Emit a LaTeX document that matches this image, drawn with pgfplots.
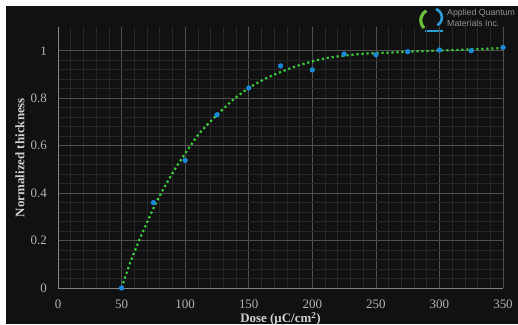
\documentclass[border=0pt]{standalone}
\usepackage{pgfplots}
\pgfplotsset{compat=1.18}
\usepackage{fontspec}
\setmainfont{Liberation Serif}
\newfontfamily\logofont{Liberation Sans}
\definecolor{bgdark}{HTML}{111111}
\definecolor{majgrid}{HTML}{505050}
\definecolor{mingrid}{HTML}{262626}
\definecolor{ticktxt}{HTML}{B4B4B4}
\definecolor{labtxt}{HTML}{D0D0D0}
\definecolor{ptblue}{HTML}{1A8AD8}
\definecolor{fitgreen}{HTML}{3CCB3C}
\definecolor{logogreen}{HTML}{6CBF3A}
\definecolor{logoblue}{HTML}{2A9FD6}
\begin{document}
\begin{tikzpicture}[x=1bp,y=1bp]
\useasboundingbox (-58,-36) rectangle (460,288);
\fill[white] (-58,-36) rectangle (460,288);
\fill[bgdark] (-52,-36) rectangle (460,282);
% logo
\draw[logogreen, line width=3.2bp] (366,260) arc[start angle=225, end angle=120, radius=11];
\draw[logoblue, line width=2.6bp] (378,279) arc[start angle=70, end angle=-60, radius=9];
\draw[logoblue, line width=2.2bp] (367,257) -- (385,257);
\node[anchor=west, inner sep=0pt, text=gray!85!white] at (389,275) {\logofont\fontsize{8.8}{10}\selectfont Applied Quantum};
\node[anchor=west, inner sep=0pt, text=gray!85!white] at (389,265) {\logofont\fontsize{8.8}{10}\selectfont Materials Inc.};
\begin{axis}[
  at={(0,0)}, anchor=south west,
  scale only axis, width=445bp, height=261bp,
  xmin=0, xmax=350, ymin=0, ymax=1.1,
  xtick={0,50,...,350},
  ytick={0,0.2,0.4,0.6,0.8,1},
  yticklabels={0,0.2,0.4,0.6,0.8,1},
  minor x tick num=4, minor y tick num=4,
  grid=both,
  major grid style={majgrid, line width=0.7bp},
  minor grid style={mingrid, line width=0.5bp},
  axis line style={draw=none},
  major tick length=0pt, minor tick length=0pt,
  /pgf/number format/assume math mode=true,
  ticklabel style={text=ticktxt, font=\fontsize{13}{15}\selectfont},
  xticklabel style={anchor=center, inner sep=0pt, yshift=-16bp},
  yticklabel style={anchor=east, inner sep=0pt, xshift=-11bp},
  xlabel={Dose (μC/cm\textsuperscript{2})},
  ylabel={Normalized thickness},
  label style={text=labtxt, font=\bfseries\fontsize{13}{15}\selectfont},
  xlabel style={at={(axis description cs:0.5,-0.118)}, anchor=center, inner sep=0pt},
  ylabel style={at={(axis description cs:-0.0854,0.5)}, anchor=center},
  clip=false,
]
\draw[majgrid!70!white, line width=0.8bp] (axis cs:0,1.1) -- (axis cs:0,0) -- (axis cs:350,0);
\addplot[fitgreen, line width=2.2bp, dash pattern=on 2.2bp off 2.8bp, smooth, tension=0.5] coordinates {
(50,0) (56.6,0.104) (63.7,0.199) (70,0.276) (76.5,0.352) (83.6,0.424) (91.5,0.497)
(100,0.567) (111,0.65) (121.6,0.711) (132.7,0.769) (141.8,0.811) (151,0.846)
(163,0.882) (174.6,0.909) (190.3,0.94) (211.3,0.969) (237.5,0.986) (263.7,0.993)
(290,0.999) (316.2,1.004) (350,1.011)
};
\addplot[only marks, mark=*, mark size=2.4bp, mark options={fill=ptblue, draw=ptblue}] coordinates {
(50,0) (75,0.36) (100,0.538) (125,0.73) (150,0.843) (175,0.936) (200,0.919)
(225,0.986) (250,0.983) (275,0.996) (300,1.003) (325,1.0) (350,1.014)
};
\end{axis}
\end{tikzpicture}
\end{document}
